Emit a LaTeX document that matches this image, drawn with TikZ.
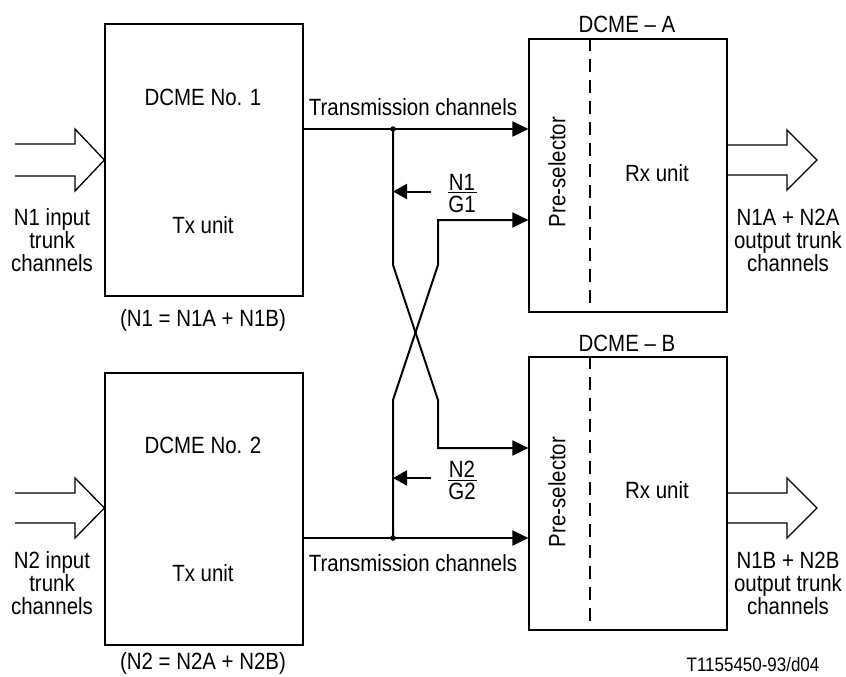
\documentclass[tikz,border=0pt]{standalone}
\usepackage{fontspec}
\setmainfont[FakeStretch=0.87]{Liberation Sans}
\usetikzlibrary{arrows.meta}
\tikzset{
  txbox/.style={draw=black, line width=1.2pt, minimum width=198pt, minimum height=272pt, inner sep=0pt},
  rxbox/.style={draw=black, line width=1.2pt, minimum width=198pt, minimum height=273pt, inner sep=0pt},
  trunk/.style={line width=2pt, line join=miter},
  feed/.style={trunk, -{Triangle[length=16pt,width=15pt]}},
  tap/.style={line width=2pt, -{Triangle[length=14pt,width=15pt]}},
  fatarrow/.style={draw=black, line width=1.3pt, line join=miter},
  splitline/.style={line width=2pt, dash pattern=on 13pt off 8pt},
  fracrule/.style={line width=0.8pt},
  lbl/.style={font=\fontsize{23.5}{23}\selectfont, align=center, inner sep=0pt},
  codelbl/.style={font=\fontsize{19.5}{20}\selectfont, inner sep=0pt},
  junction/.style={circle, fill=black, inner sep=0pt, minimum size=5.5pt},
}

\begin{document}
\begin{tikzpicture}[x=1pt, y=-1pt]
\useasboundingbox (0,0) rectangle (846,677);
% transmit side
\node[txbox] (tx1) at (204,160) {};
\node[txbox] (tx2) at (204,509) {};
\node[lbl] (tx1name) at (203,97) {DCME No. 1};
\node[lbl] (tx1unit) at (203,225) {Tx unit};
\node[lbl] (tx2name) at (203,445) {DCME No. 2};
\node[lbl] (tx2unit) at (203,573) {Tx unit};
\node[lbl] (sum1) at (203,320) {(N1 = N1A + N1B)};
\node[lbl] (sum2) at (203,663) {(N2 = N2A + N2B)};
% receive side
\node[rxbox] (rxA) at (628,175.5) {};
\node[rxbox] (rxB) at (628,493.5) {};
\draw[splitline] (rxA.north -| 590,0) -- (rxA.south -| 590,0);
\draw[splitline] (rxB.north -| 590,0) -- (rxB.south -| 590,0);
\node[lbl] (rxAname) at (627,24) {DCME \textendash{} A};
\node[lbl] (rxBname) at (627,343) {DCME \textendash{} B};
\node[lbl, rotate=90] (preA) at (557,172) {Pre-selector};
\node[lbl, rotate=90] (preB) at (557,492) {Pre-selector};
\node[lbl] (rxAunit) at (657,173) {Rx unit};
\node[lbl] (rxBunit) at (657,490) {Rx unit};
% trunk inputs and outputs
\draw[fatarrow] (15,144) -- (75,144) -- (75,129) -- (tx1.west |- 0,160) -- (75,191) -- (75,176) -- (15,176);
\draw[fatarrow] (15,493) -- (75,493) -- (75,478) -- (tx2.west |- 0,508) -- (75,538) -- (75,523) -- (15,523);
\draw[fatarrow] (rxA.east |- 0,145) -- (787,145) -- (787,130) -- (817,160) -- (787,190) -- (787,175) -- (rxA.east |- 0,175);
\draw[fatarrow] (rxB.east |- 0,493) -- (787,493) -- (787,478) -- (817,508) -- (787,538) -- (787,523) -- (rxB.east |- 0,523);
\node[lbl] (in1) at (52,240) {N1 input\\trunk\\channels};
\node[lbl] (in2) at (52,583) {N2 input\\trunk\\channels};
\node[lbl] (outA) at (788,240) {N1A + N2A\\output trunk\\channels};
\node[lbl] (outB) at (788,583) {N1B + N2B\\output trunk\\channels};
% transmission channels
\coordinate (j1) at (393,129);
\coordinate (j2) at (393,538);
\draw[feed] (tx1.east |- j1) -- (rxA.west |- j1);
\draw[feed] (tx2.east |- j2) -- (rxB.west |- j2);
\draw[feed] (j1) -- (393,265) -- (438,400) |- (rxB.west |- 0,448);
\draw[feed] (j2) -- (393,400) -- (438,265) |- (rxA.west |- 0,220);
\node[junction] (d1) at (j1) {};
\node[junction] (d2) at (j2) {};
\node[lbl] (tc1) at (413,107) {Transmission channels};
\node[lbl] (tc2) at (413,563) {Transmission channels};
% share taken off each trunk
\coordinate (t1) at (431,191.5);
\coordinate (t2) at (431,478);
\draw[tap] (t1) -- (j1 |- t1);
\draw[tap] (t2) -- (j2 |- t2);
\node[lbl] (f1num) at (462,182) {N1};
\node[lbl] (f1den) at (462,204) {G1};
\draw[fracrule] (448,192.5) -- (477,192.5);
\node[lbl] (f2num) at (462,469) {N2};
\node[lbl] (f2den) at (462,491) {G2};
\draw[fracrule] (448,480) -- (477,480);
\node[codelbl] (code) at (753,665) {T1155450-93/d04};
\end{tikzpicture}
\end{document}
